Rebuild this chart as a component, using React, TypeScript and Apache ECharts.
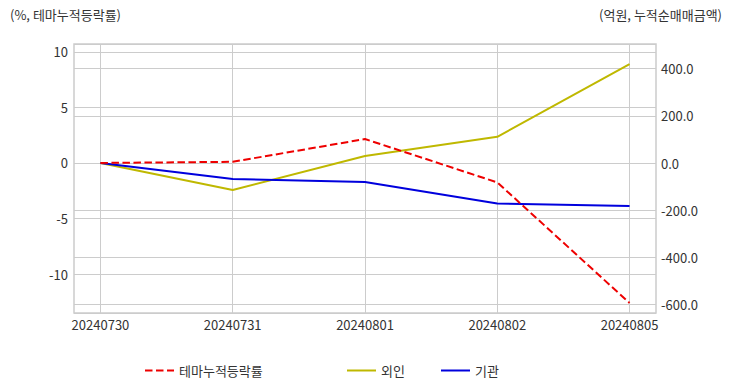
import React, { useEffect, useRef } from "react";
import * as echarts from "echarts";

const categories = ["20240730", "20240731", "20240801", "20240802", "20240805"];
const themeRate = [0, 0.1, 2.15, -1.75, -12.6];
const foreign = [0, -114, 30, 111, 419];
const institution = [0, -68, -80, -171, -182];
const leftTitle = "(%, 테마누적등락률)";
const rightTitle = "(억원, 누적순매매금액)";
const seriesNames = ["테마누적등락률", "외인", "기관"];

const FONT = "'Noto Sans CJK KR', 'Noto Sans', sans-serif";

export default function App() {
  const ref = useRef<HTMLDivElement>(null);
  useEffect(() => {
    const chart = echarts.init(ref.current!, null, { renderer: "svg" });
    const idx = categories.map((_, i) => i);
    const toPts = (arr: number[]) => arr.map((v, i) => [i, v]);
    const legendBase = {
      top: 359,
      itemWidth: 29,
      itemHeight: 10,
      itemGap: 10,
      itemStyle: { opacity: 0 },
      textStyle: { fontFamily: FONT, fontSize: 13, color: "#333" },
    };
    chart.setOption({
      animation: false,
      textStyle: { fontFamily: FONT },
      grid: {
        left: 74,
        right: 76,
        top: 44,
        bottom: 79,
        show: true,
        borderColor: "#cccccc",
        borderWidth: 1.5,
        containLabel: false,
      },
      graphic: [
        { type: "text", left: 10, top: 8, style: { text: leftTitle, font: `13px ${FONT}`, fill: "#333" } },
        { type: "text", right: 10, top: 8, style: { text: rightTitle, font: `13px ${FONT}`, fill: "#333" } },
      ],
      legend: [
        { ...legendBase, left: 139, data: [seriesNames[0]] },
        { ...legendBase, left: 341, data: [seriesNames[1]] },
        { ...legendBase, left: 435, data: [seriesNames[2]] },
      ],
      xAxis: {
        type: "value",
        min: -0.2,
        max: 4.2,
        axisLine: { show: false },
        axisTick: { show: false, customValues: idx },
        axisLabel: {
          customValues: idx,
          formatter: (v: number) => categories[Math.round(v)] ?? "",
          fontSize: 13,
          color: "#333",
          margin: 5,
          fontFamily: FONT,
        },
        splitLine: { show: true, lineStyle: { color: "#cccccc", width: 1 } },
      },
      yAxis: [
        {
          type: "value",
          min: -13.5,
          max: 10.7,
          axisLine: { show: false },
          axisTick: { show: false },
          axisLabel: { showMinLabel: false, showMaxLabel: false, fontSize: 13, color: "#333", margin: 6, fontFamily: FONT },
          splitLine: { show: true, lineStyle: { color: "#cccccc", width: 1 } },
        },
        {
          type: "value",
          min: -635,
          max: 504,
          position: "right",
          axisLine: { show: false },
          axisTick: { show: false },
          axisLabel: {
            showMinLabel: false,
            showMaxLabel: false,
            fontSize: 13,
            color: "#333",
            margin: 5,
            fontFamily: FONT,
            formatter: (v: number) => v.toFixed(1),
          },
          splitLine: { show: true, lineStyle: { color: "#cccccc", width: 1 } },
        },
      ],
      series: [
        {
          name: seriesNames[0],
          type: "line",
          yAxisIndex: 0,
          data: toPts(themeRate),
          symbol: "none",
          lineStyle: { color: "#ee0000", width: 2, type: [7.5, 3.5] },
          itemStyle: { color: "#ee0000" },
          z: 3,
        },
        {
          name: seriesNames[1],
          type: "line",
          yAxisIndex: 1,
          data: toPts(foreign),
          symbol: "none",
          lineStyle: { color: "#bfb800", width: 2 },
          itemStyle: { color: "#bfb800" },
          z: 2,
        },
        {
          name: seriesNames[2],
          type: "line",
          yAxisIndex: 1,
          data: toPts(institution),
          symbol: "none",
          lineStyle: { color: "#0000dd", width: 2 },
          itemStyle: { color: "#0000dd" },
          z: 2,
        },
      ],
    });
    return () => chart.dispose();
  }, []);
  return (
    <div
      ref={ref}
      style={{ position: "fixed", left: 0, top: 0, width: 732, height: 392, background: "#fff" }}
    />
  );
}
